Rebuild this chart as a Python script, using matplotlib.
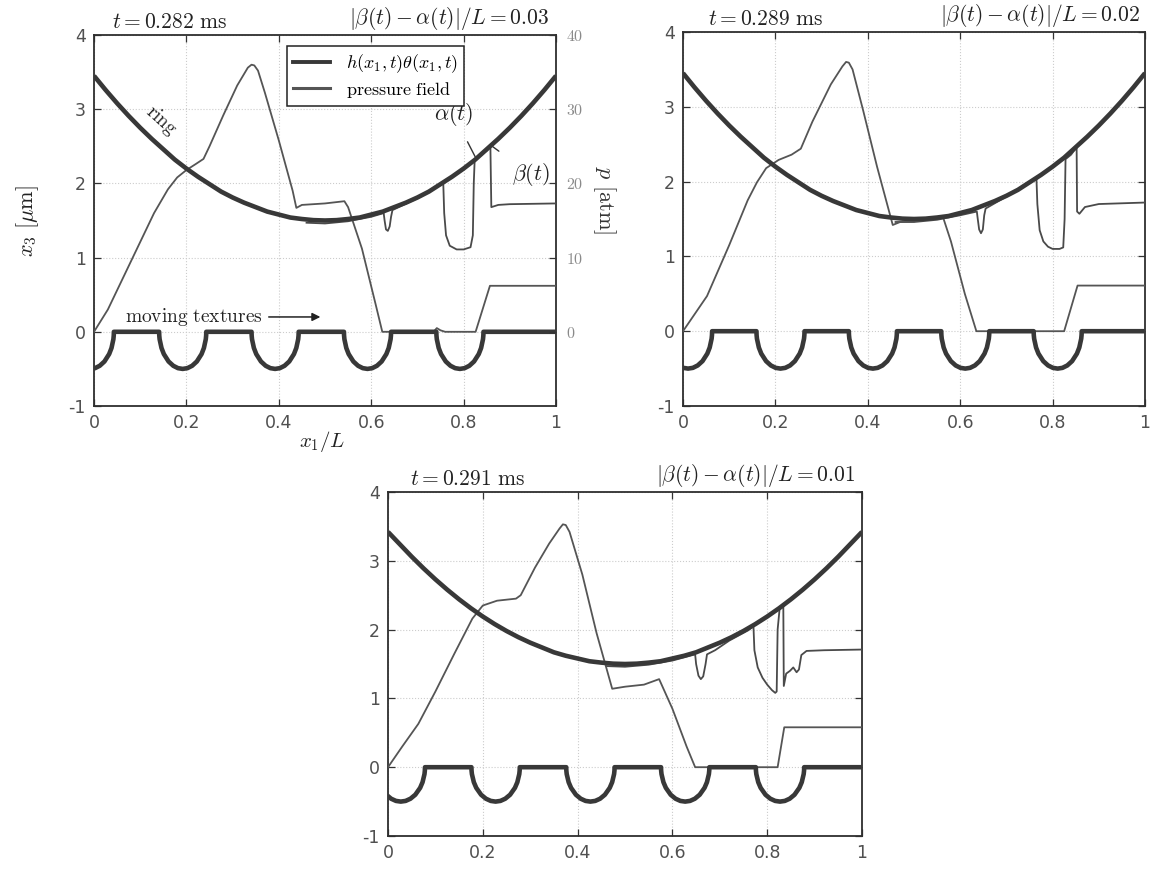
import numpy as np
import matplotlib
matplotlib.use("Agg")
import matplotlib.pyplot as plt
from matplotlib.lines import Line2D

plt.rcParams["mathtext.fontset"] = "cm"

W, H = 1156, 888
DARK = "#383838"
THIN = "#4a4a4a"
TICKC = "#505050"

# ring profile (read at every 0.025 of x1/L)
RING_X = [0, 0.025, 0.05, 0.075, 0.1, 0.125, 0.15, 0.175, 0.2, 0.225, 0.25,
          0.275, 0.3, 0.325, 0.35, 0.375, 0.4, 0.425, 0.45, 0.475, 0.5,
          0.525, 0.55, 0.575, 0.6, 0.625, 0.65, 0.675, 0.7, 0.725, 0.75,
          0.775, 0.8, 0.825, 0.85, 0.875, 0.9, 0.925, 0.95, 0.975, 1.0]
RING_Y = [3.45, 3.26, 3.08, 2.91, 2.75, 2.60, 2.46, 2.32, 2.20, 2.09, 1.99,
          1.89, 1.81, 1.74, 1.68, 1.62, 1.58, 1.54, 1.52, 1.505, 1.50,
          1.505, 1.52, 1.54, 1.58, 1.62, 1.68, 1.74, 1.81, 1.89, 1.99,
          2.09, 2.20, 2.32, 2.46, 2.60, 2.75, 2.91, 3.08, 3.26, 3.45]
RING_Y3 = [3.42, 3.24, 3.06, 2.89, 2.73, 2.58, 2.44, 2.31, 2.19, 2.08, 1.98,
           1.89, 1.81, 1.74, 1.67, 1.62, 1.58, 1.54, 1.52, 1.505, 1.50,
           1.505, 1.52, 1.54, 1.58, 1.62, 1.67, 1.74, 1.81, 1.89, 1.98,
           2.08, 2.19, 2.31, 2.44, 2.58, 2.73, 2.89, 3.06, 3.24, 3.42]

# shape of one texture pocket (offset in half-widths, depth)
DIP_F = [-1, -0.995, -0.98, -0.9, -0.8, -0.6, -0.4, -0.2, 0,
         0.2, 0.4, 0.6, 0.8, 0.9, 0.98, 0.995, 1]
DIP_D = [0, -0.05, -0.1, -0.218, -0.3, -0.4, -0.458, -0.49, -0.5,
         -0.49, -0.458, -0.4, -0.3, -0.218, -0.1, -0.05, 0]

TEX_CENTERS = [
    [-0.008, 0.192, 0.392, 0.592, 0.792],
    [0.011, 0.211, 0.411, 0.611, 0.811],
    [0.027, 0.227, 0.427, 0.627, 0.827],
]
TEX_HALF = [0.051, 0.052, 0.051]

# pressure field, plotted in x3 units (p/10)
P1_X = [0, 0.03, 0.08, 0.13, 0.16, 0.18, 0.2, 0.22, 0.237, 0.25, 0.28, 0.31,
        0.333, 0.341, 0.347, 0.355, 0.37, 0.40, 0.43, 0.438, 0.45, 0.50, 0.542,
        0.55, 0.58, 0.61, 0.624, 0.735, 0.742, 0.75, 0.76, 0.826, 0.857, 1.0]
P1_Y = [0, 0.3, 0.95, 1.6, 1.92, 2.08, 2.18, 2.26, 2.33, 2.5, 2.92, 3.32,
        3.56, 3.6, 3.59, 3.52, 3.22, 2.58, 1.9, 1.67, 1.71, 1.73, 1.76,
        1.68, 1.12, 0.36, 0.0, 0.0, 0.05, 0.02, 0.0, 0.0, 0.62, 0.62]

P2_X = [0, 0.052, 0.1, 0.14, 0.16, 0.18, 0.207, 0.235, 0.255, 0.28, 0.32,
        0.345, 0.353, 0.359, 0.367, 0.39, 0.42, 0.454, 0.47, 0.5, 0.53, 0.562,
        0.58, 0.61, 0.635, 0.825, 0.854, 1.0]
P2_Y = [0, 0.47, 1.15, 1.75, 1.99, 2.18, 2.29, 2.36, 2.44, 2.8, 3.3,
        3.54, 3.6, 3.59, 3.5, 2.95, 2.2, 1.42, 1.46, 1.47, 1.5, 1.54,
        1.2, 0.5, 0.0, 0.0, 0.61, 0.61]

P3_X = [0, 0.03, 0.064, 0.1, 0.14, 0.178, 0.2, 0.23, 0.27, 0.28, 0.31, 0.34,
        0.362, 0.369, 0.375, 0.383, 0.41, 0.44, 0.473, 0.5, 0.54, 0.572, 0.6,
        0.63, 0.648, 0.822, 0.836, 1.0]
P3_Y = [0, 0.3, 0.63, 1.1, 1.65, 2.16, 2.35, 2.42, 2.45, 2.5, 2.9, 3.25,
        3.47, 3.53, 3.52, 3.42, 2.8, 1.95, 1.14, 1.17, 1.2, 1.28, 0.85,
        0.3, 0.0, 0.0, 0.58, 0.58]

# h*theta where it leaves the ring
HT1_X = [0.46, 0.5, 0.55, 0.6, 0.627, 0.629, 0.632, 0.636, 0.64, 0.643, 0.646,
         0.7, 0.756, 0.758, 0.762, 0.77, 0.785, 0.80, 0.815, 0.82, 0.822,
         0.824, 0.85, 0.858, 0.86, 0.875, 0.9, 1.0]
HT1_Y = [1.47, 1.46, 1.49, 1.55, 1.6, 1.5, 1.38, 1.36, 1.42, 1.55, 1.64,
         1.80, 2.0, 1.6, 1.3, 1.16, 1.11, 1.11, 1.14, 1.3, 2.0,
         2.32, 2.44, 2.5, 1.68, 1.71, 1.72, 1.73]

HT2_X = [0.46, 0.5, 0.55, 0.6, 0.636, 0.638, 0.641, 0.645, 0.649, 0.652, 0.655,
         0.7, 0.765, 0.767, 0.772, 0.78, 0.79, 0.80, 0.815, 0.823, 0.826,
         0.828, 0.84, 0.852, 0.853, 0.858, 0.87, 0.9, 1.0]
HT2_Y = [1.46, 1.46, 1.49, 1.55, 1.6, 1.5, 1.36, 1.31, 1.36, 1.55, 1.64,
         1.8, 2.05, 1.7, 1.35, 1.2, 1.13, 1.10, 1.10, 1.12, 1.5,
         2.3, 2.36, 2.46, 1.6, 1.57, 1.66, 1.70, 1.72]

HT3_X = [0.46, 0.5, 0.55, 0.6, 0.648, 0.65, 0.655, 0.66, 0.665, 0.67, 0.673,
         0.69, 0.72, 0.76, 0.771, 0.773, 0.78, 0.79, 0.80, 0.81, 0.817, 0.82,
         0.822, 0.826, 0.834, 0.835, 0.84, 0.848, 0.855, 0.862, 0.867, 0.872,
         0.883, 0.92, 1.0]
HT3_Y = [1.47, 1.46, 1.49, 1.55, 1.64, 1.5, 1.33, 1.28, 1.32, 1.5, 1.64,
         1.7, 1.84, 1.99, 2.05, 1.7, 1.45, 1.3, 1.2, 1.12, 1.08, 1.1,
         2.0, 2.29, 2.34, 1.18, 1.36, 1.4, 1.45, 1.38, 1.42, 1.63,
         1.69, 1.7, 1.71]

TIMES = ["0.282", "0.289", "0.291"]
GAPS = ["0.03", "0.02", "0.01"]
X_TICKS = [0, 0.2, 0.4, 0.6, 0.8, 1]
X_LABELS = ["0", "0.2", "0.4", "0.6", "0.8", "1"]
Y_TICKS = [-1, 0, 1, 2, 3, 4]
P_TICKS = [0, 10, 20, 30, 40]


def rect(l, t, r, b):
    return [l / W, 1 - b / H, (r - l) / W, (b - t) / H]


def texture(centers, half):
    xs, ys = [], []
    for c in centers:
        for f, d in zip(DIP_F, DIP_D):
            xs.append(c + f * half)
            ys.append(d)
    xs.append(1.05)
    ys.append(0)
    return xs, ys


def panel(ax, i, ring_y, px, py, hx, hy, title_dx):
    tx, ty = texture(TEX_CENTERS[i], TEX_HALF[i])
    ax.plot(hx, hy, color=THIN, lw=1.3, zorder=3)
    ax.plot(px, py, color="#555555", lw=1.3, zorder=3)
    ax.plot(RING_X, ring_y, color=DARK, lw=3.3, zorder=4, solid_capstyle="butt")
    ax.plot(tx, ty, color=DARK, lw=3.3, zorder=4, solid_joinstyle="round")
    ax.set_xlim(0, 1)
    ax.set_ylim(-1, 4)
    ax.set_xticks(X_TICKS)
    ax.set_xticklabels(X_LABELS)
    ax.set_yticks(Y_TICKS)
    ax.set_yticklabels([str(v) for v in Y_TICKS])
    ax.tick_params(direction="in", length=5, width=0.9, top=True, right=True,
                   labelsize=12.5, labelcolor=TICKC, color="#333333", pad=6)
    ax.grid(True, ls=":", color="#cccccc", lw=0.8)
    for s in ax.spines.values():
        s.set_color("#2e2e2e")
        s.set_linewidth(1.3)
    ax.text(title_dx[0], 1.008, r"$t = %s\ \mathrm{ms}$" % TIMES[i],
            transform=ax.transAxes, ha="left", va="bottom", fontsize=15.5,
            color="#222222")
    ax.text(title_dx[1], 1.008,
            r"$|\beta(t)-\alpha(t)|/L = %s$" % GAPS[i],
            transform=ax.transAxes, ha="right", va="bottom", fontsize=15.5,
            color="#222222")


fig = plt.figure(figsize=(W / 100, H / 100), dpi=100)

ax1 = fig.add_axes(rect(94, 35, 556, 406))
ax2 = fig.add_axes(rect(683, 32, 1145, 406))
ax3 = fig.add_axes(rect(388, 492, 862, 836))

panel(ax1, 0, RING_Y, P1_X, P1_Y, HT1_X, HT1_Y, (0.04, 0.985))
panel(ax2, 1, RING_Y, P2_X, P2_Y, HT2_X, HT2_Y, (0.055, 0.99))
panel(ax3, 2, RING_Y3, P3_X, P3_Y, HT3_X, HT3_Y, (0.046, 0.985))

ax1.tick_params(right=False)
axp = ax1.twinx()
axp.set_ylim(-10, 40)
axp.set_yticks(P_TICKS)
axp.set_yticklabels([r"$%d$" % v for v in P_TICKS])
axp.tick_params(direction="in", length=5, width=0.9, labelsize=11.5,
                labelcolor="#8a8a8a", color="#333333", pad=7)
for s in axp.spines.values():
    s.set_visible(False)

handles = [Line2D([], [], color=DARK, lw=2.8),
           Line2D([], [], color="#555555", lw=2.2)]
leg = ax1.legend(handles, [r"$h(x_1,t)\theta(x_1,t)$", r"$\mathrm{pressure\ field}$"],
                 loc="upper left", bbox_to_anchor=(0.418, 0.97), fontsize=13,
                 frameon=True, fancybox=False, framealpha=1, edgecolor="#222222",
                 handlelength=2.0, borderpad=0.35, labelspacing=0.25,
                 handletextpad=0.9, borderaxespad=0)
leg.get_frame().set_linewidth(1.1)

ax1.text(0.145, 2.85, r"$\mathrm{ring}$", rotation=-42, fontsize=14,
         ha="center", va="center", color="#222222")
ax1.annotate(r"$\mathrm{moving\ textures}$", xy=(0.49, 0.2), xytext=(0.068, 0.2),
             fontsize=14, va="center", ha="left", color="#222222",
             arrowprops=dict(arrowstyle="-|>", color="#222222", lw=1.1,
                             shrinkA=2, shrinkB=0, mutation_scale=12))
ax1.annotate(r"$\alpha(t)$", xy=(0.825, 2.36), xytext=(0.778, 2.93), fontsize=16,
             ha="center", va="center", color="#222222",
             arrowprops=dict(arrowstyle="-", color="#333333", lw=1.0,
                             shrinkA=9, shrinkB=0))
ax1.annotate(r"$\beta(t)$", xy=(0.862, 2.5), xytext=(0.945, 2.12), fontsize=16,
             ha="center", va="center", color="#222222",
             arrowprops=dict(arrowstyle="-", color="#333333", lw=1.0,
                             shrinkA=9, shrinkB=0))

fig.text(28 / W, 1 - 221 / H, r"$x_3\ [\mu\mathrm{m}]$", rotation=90,
         ha="center", va="center", fontsize=16, color="#222222")
fig.text(604 / W, 1 - 200 / H, r"$p\ [\mathrm{atm}]$", rotation=270,
         ha="center", va="center", fontsize=16, color="#333333")
fig.text(322 / W, 1 - 441 / H, r"$x_1/L$", ha="center", va="center",
         fontsize=15, color="#222222")

fig.savefig("out.png", dpi=100)
